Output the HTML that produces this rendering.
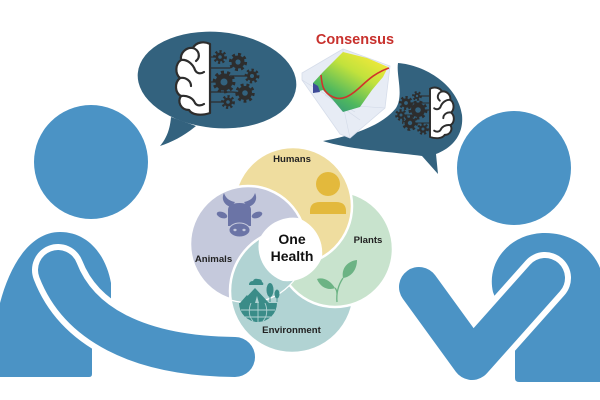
<!DOCTYPE html>
<html><head><meta charset="utf-8">
<style>
html,body{margin:0;padding:0;background:#fff;}
svg{display:block;}
text{font-family:"Liberation Sans",Arial,sans-serif;}
</style></head><body>
<svg width="600" height="400" viewBox="0 0 600 400" xmlns="http://www.w3.org/2000/svg">
<defs>
  <clipPath id="clipA"><circle cx="248" cy="244" r="58"/></clipPath>
  <linearGradient id="surf" x1="0" y1="1" x2="0.75" y2="0">
    <stop offset="0" stop-color="#26868a"/>
    <stop offset="0.35" stop-color="#4fb85e"/>
    <stop offset="0.7" stop-color="#c2e23c"/>
    <stop offset="1" stop-color="#f3e93a"/>
  </linearGradient>
</defs>

<!-- LEFT PERSON -->
<circle cx="91" cy="162" r="57" fill="#4b93c5"/>
<path d="M0,303 C10,265 30,232 60,232 C88,232 106,255 111,283 L111,300 L92,345 L92,374 Q92,377 89,377 L0,377 Z" fill="#4b93c5"/>
<path d="M58,270 C78,322 135,356 235,357" stroke="#fff" stroke-width="52" fill="none" stroke-linecap="round"/>
<path d="M58,270 C78,322 135,356 235,357" stroke="#4b93c5" stroke-width="40" fill="none" stroke-linecap="round"/>

<!-- RIGHT PERSON -->
<circle cx="514" cy="168" r="57" fill="#4b93c5"/>
<path d="M493,292 C486,262 510,233 545,233 C575,233 594,252 600,268 L600,382 L519,382 Q515,382 515,378 L515,350 Z" fill="#4b93c5"/>
<path d="M419,287 L472,360 L545,278" stroke="#fff" stroke-width="52" fill="none" stroke-linecap="round" stroke-linejoin="round"/>
<path d="M419,287 L472,360 L545,278" stroke="#4b93c5" stroke-width="40" fill="none" stroke-linecap="round" stroke-linejoin="round"/>

<!-- LEFT BUBBLE -->
<ellipse cx="217" cy="80" rx="79.5" ry="48" fill="#33627e" transform="rotate(5 217 80)"/>
<path d="M171,117 C170,130 166,139 160,146 C172,142 184,136 196,126 Z" fill="#33627e"/>
<g stroke="#2d2d2d" stroke-width="1.2" fill="none">
  <path d="M210,57 L220,57"/>
  <path d="M210,68 L230,68 L238,62"/>
  <path d="M210,82 L224,82"/>
  <path d="M210,92 L232,92 L245,93"/>
  <path d="M210,102 L228,102"/>
  <path d="M230,76 L252,76"/>
</g>
<g stroke="#2d2d2d" stroke-width="2.2" stroke-linecap="round" stroke-linejoin="round">
  <path d="M210,44 C204,41 196,42 193,48 C186,47 180,53 181,60 C175,64 175,74 180,78 C174,83 175,93 181,96 C177,102 181,110 189,110 C192,115 201,116 210,113 Z" fill="#fff"/>
  <g fill="none">
    <path d="M193,48 C199,50 201,57 196,61"/>
    <path d="M181,60 C187,59 193,64 195,70 C197,74 201,74 204,72"/>
    <path d="M180,78 C186,77 191,81 191,86"/>
    <path d="M181,96 C187,95 193,98 195,103 C197,106 201,106 204,104"/>
  </g>
</g>
<g fill="#2d2d2d">
  <circle cx="220" cy="57" r="4.5"/><circle cx="220" cy="57" r="5.6" fill="none" stroke="#2d2d2d" stroke-width="2.6" pathLength="16" stroke-dasharray="1 1"/><circle cx="220" cy="57" r="1.8" fill="#33627e"/>
  <circle cx="238" cy="62" r="6.5"/><circle cx="238" cy="62" r="7.6" fill="none" stroke="#2d2d2d" stroke-width="3" pathLength="16" stroke-dasharray="1 1"/><circle cx="238" cy="62" r="2.6" fill="#33627e"/>
  <circle cx="224" cy="82" r="8.5"/><circle cx="224" cy="82" r="9.8" fill="none" stroke="#2d2d2d" stroke-width="3.2" pathLength="20" stroke-dasharray="1 1"/><circle cx="224" cy="82" r="3.5" fill="#33627e"/>
  <circle cx="252" cy="76" r="5"/><circle cx="252" cy="76" r="6.1" fill="none" stroke="#2d2d2d" stroke-width="2.6" pathLength="16" stroke-dasharray="1 1"/><circle cx="252" cy="76" r="2" fill="#33627e"/>
  <circle cx="245" cy="93" r="7"/><circle cx="245" cy="93" r="8.2" fill="none" stroke="#2d2d2d" stroke-width="3" pathLength="18" stroke-dasharray="1 1"/><circle cx="245" cy="93" r="2.8" fill="#33627e"/>
  <circle cx="228" cy="102" r="4.5"/><circle cx="228" cy="102" r="5.6" fill="none" stroke="#2d2d2d" stroke-width="2.6" pathLength="16" stroke-dasharray="1 1"/><circle cx="228" cy="102" r="1.8" fill="#33627e"/>
</g>

<!-- RIGHT BUBBLE -->
<path d="M398,63 C425,65 458,85 462,115 C464,135 452,148 436,154 L438,174 L422,156 C395,152 350,150 323,141 C345,137 380,128 396,108 C404,95 396,75 398,63 Z" fill="#33627e"/>
<g stroke="#2d2d2d" stroke-width="1.1" fill="none">
  <path d="M406,103 L430,103"/>
  <path d="M417,96 L430,96"/>
  <path d="M418,110 L430,110"/>
  <path d="M410,123 L430,123"/>
  <path d="M423,129 L430,129"/>
  <path d="M401,115 L418,115"/>
</g>
<g transform="translate(577,57.9) scale(-0.7,0.7)" stroke="#2d2d2d" stroke-width="2.8" stroke-linecap="round" stroke-linejoin="round">
  <path d="M210,44 C204,41 196,42 193,48 C186,47 180,53 181,60 C175,64 175,74 180,78 C174,83 175,93 181,96 C177,102 181,110 189,110 C192,115 201,116 210,113 Z" fill="#fff"/>
  <g fill="none">
    <path d="M193,48 C199,50 201,57 196,61"/>
    <path d="M181,60 C187,59 193,64 195,70 C197,74 201,74 204,72"/>
    <path d="M180,78 C186,77 191,81 191,86"/>
    <path d="M181,96 C187,95 193,98 195,103 C197,106 201,106 204,104"/>
  </g>
</g>
<g fill="#2d2d2d">
  <circle cx="406" cy="103" r="4.8"/><circle cx="406" cy="103" r="5.8" fill="none" stroke="#2d2d2d" stroke-width="2.4" pathLength="16" stroke-dasharray="1 1"/><circle cx="406" cy="103" r="1.9" fill="#33627e"/>
  <circle cx="417" cy="96" r="3"/><circle cx="417" cy="96" r="3.9" fill="none" stroke="#2d2d2d" stroke-width="2" pathLength="12" stroke-dasharray="1 1"/><circle cx="417" cy="96" r="1.2" fill="#33627e"/>
  <circle cx="418" cy="110" r="7"/><circle cx="418" cy="110" r="8.1" fill="none" stroke="#2d2d2d" stroke-width="2.8" pathLength="18" stroke-dasharray="1 1"/><circle cx="418" cy="110" r="2.8" fill="#33627e"/>
  <circle cx="401" cy="115" r="3.8"/><circle cx="401" cy="115" r="4.8" fill="none" stroke="#2d2d2d" stroke-width="2.2" pathLength="14" stroke-dasharray="1 1"/><circle cx="401" cy="115" r="1.5" fill="#33627e"/>
  <circle cx="410" cy="123" r="5.5"/><circle cx="410" cy="123" r="6.6" fill="none" stroke="#2d2d2d" stroke-width="2.6" pathLength="16" stroke-dasharray="1 1"/><circle cx="410" cy="123" r="2.2" fill="#33627e"/>
  <circle cx="423" cy="129" r="3.8"/><circle cx="423" cy="129" r="4.8" fill="none" stroke="#2d2d2d" stroke-width="2.2" pathLength="14" stroke-dasharray="1 1"/><circle cx="423" cy="129" r="1.5" fill="#33627e"/>
</g>

<!-- SURFACE PLOT -->
<polygon points="302,73 343,49 390,66 385,108 350,138 340,134 302,80" fill="#e7ecf5" stroke="#d6ddea" stroke-width="0.8"/>
<g stroke="#d3dae8" stroke-width="0.6" fill="none">
  <path d="M343,49 L343,105"/>
  <path d="M302,80 L343,105 L385,108"/>
  <path d="M343,105 L350,138"/>
  <path d="M315,88 L355,112"/><path d="M325,95 L360,120"/>
</g>
<polygon points="313,93 313,83 323,72 343,52 367,58 388,67 383,77 372,90 360,107 343,112 333,100 323,90" fill="url(#surf)"/>
<polygon points="313,93 313,83 318,86 320,92" fill="#3d4a98"/>
<path d="M321,75 C322,84 322,92 333,97 C342,101 350,96 358,89 C366,82 374,73 389,68" stroke="#d0342a" stroke-width="1.6" fill="none"/>

<text x="355" y="44" font-size="14.5" font-weight="bold" fill="#c8312d" text-anchor="middle">Consensus</text>

<!-- ONE HEALTH PINWHEEL -->
<g stroke="#fff" stroke-width="2.5">
  <circle cx="292" cy="291" r="62" fill="#b1d3d3"/>
  <circle cx="335" cy="249" r="58" fill="#c8e3cd"/>
  <circle cx="293" cy="206" r="59" fill="#efdd9f"/>
  <circle cx="248" cy="244" r="58" fill="#c5c9dc"/>
  <circle cx="292" cy="291" r="62" fill="#b1d3d3" clip-path="url(#clipA)"/>
</g>
<path d="M298,218 A37,37 0 0 1 322,257 A37,37 0 0 1 283,281 A37,37 0 0 1 259,240 A37,37 0 0 1 298,218 Z" fill="#fff"/>

<!-- person icon -->
<circle cx="328" cy="184" r="12" fill="#e3b93c"/>
<path d="M310,214 L310,211 Q310,202 320,202 L336,202 Q346,202 346,211 L346,214 Z" fill="#e3b93c"/>

<!-- cow icon -->
<g fill="#6b74a6">
  <path d="M231,207 C224,205 221,199 224,193 C226,199 230,201 235,202 Z"/>
  <path d="M248,207 C255,205 258,199 255,193 C253,199 249,201 244,202 Z"/>
  <ellipse cx="222" cy="215" rx="5.5" ry="3" transform="rotate(20 222 215)"/>
  <ellipse cx="257" cy="215" rx="5.5" ry="3" transform="rotate(-20 257 215)"/>
  <path d="M228,210 Q228,203 239.5,203 Q251,203 251,210 L251,226 L228,226 Z"/>
  <ellipse cx="239.5" cy="230" rx="10.5" ry="7" stroke="#c5c9dc" stroke-width="1"/>
  <ellipse cx="235" cy="230" rx="1.6" ry="1.2" fill="#c5c9dc"/>
  <ellipse cx="244" cy="230" rx="1.6" ry="1.2" fill="#c5c9dc"/>
</g>

<!-- plant icon -->
<g fill="#6cb384">
  <path d="M343,278 C341,268 348,261 357,260 C357,270 351,277 343,278 Z"/>
  <path d="M335,288 C330,280 323,277 317,279 C320,287 328,291 335,288 Z"/>
  <path d="M337,302 C336,292 339,284 343,278 M337,294 C337,291 336,289 335,288" stroke="#6cb384" stroke-width="1.3" fill="none"/>
</g>

<!-- environment icon -->
<g fill="#3a8c88">
  <path d="M239,303 A19,19 0 0 0 277,303 Z"/>
  <g stroke="#b1d3d3" stroke-width="0.9" fill="none">
    <path d="M241,310 L275,310"/><path d="M245,317 L271,317"/>
    <path d="M258,303 L258,322"/>
    <path d="M251,303 C248,310 249,317 253,321"/>
    <path d="M265,303 C268,310 267,317 263,321"/>
  </g>
  <polygon points="241,303 255,288 269,303"/>
  <polygon points="240,303 247,295 252,303"/>
  <path d="M255,303 L257,296 L259,303 Z" fill="#b1d3d3"/>
  <ellipse cx="270" cy="290" rx="3.5" ry="7"/>
  <rect x="269.5" y="296" width="1" height="6"/>
  <ellipse cx="277" cy="294" rx="2.5" ry="4.5"/>
  <rect x="276.6" y="298" width="0.8" height="4"/>
  <path d="M249,285 Q249,281 253,281 Q254,278 258,279 Q262,279 262,282 Q264,283 263,285 Z"/>
</g>

<!-- labels -->
<g font-size="9.6" font-weight="bold" fill="#222" text-anchor="middle">
  <text x="292" y="162">Humans</text>
  <text x="213.5" y="262">Animals</text>
  <text x="368" y="243">Plants</text>
  <text x="291.5" y="333">Environment</text>
</g>
<g font-size="14" font-weight="bold" fill="#111" text-anchor="middle">
  <text x="292" y="244">One</text>
  <text x="292" y="261">Health</text>
</g>
</svg>
</body></html>
